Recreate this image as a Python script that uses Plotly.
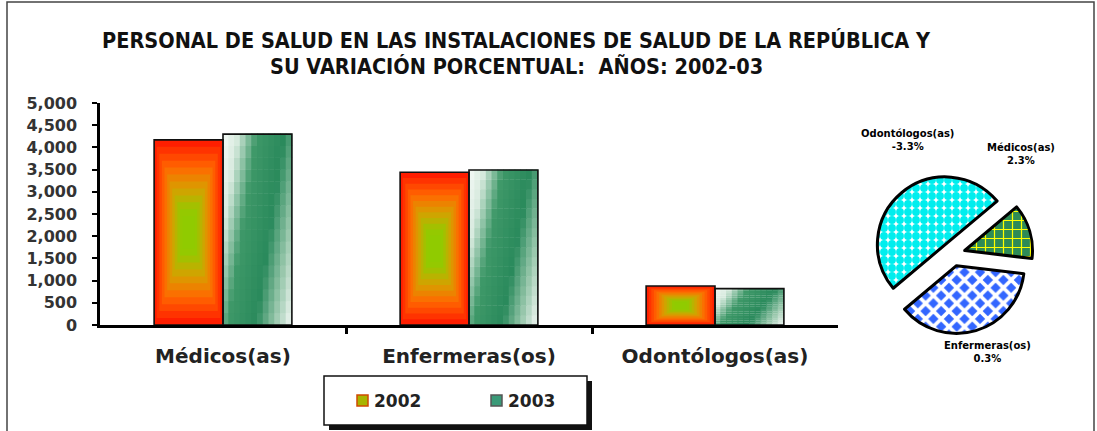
import plotly.graph_objects as go

# ---------------- data ----------------
categories = ["Médicos(as)", "Enfermeras(os)", "Odontólogos(as)"]
years = ["2002", "2003"]
v2002 = [4170, 3440, 880]
v2003 = [4300, 3490, 820]
y_ticks = [0, 500, 1000, 1500, 2000, 2500, 3000, 3500, 4000, 4500, 5000]

pie_labels = ["Médicos(as)", "Enfermeras(os)", "Odontólogos(as)"]
pie_shares = [13, 37, 50]          # slice sizes
pie_pct_text = ["2.3%", "0.3%", "-3.3%"]

title_lines = ["PERSONAL DE SALUD EN LAS INSTALACIONES DE SALUD DE LA REPÚBLICA Y",
               "SU VARIACIÓN PORCENTUAL:  AÑOS: 2002-03"]

# ---------------- helpers ----------------
W, H = 1097, 431
def px(x):
    return x / W
def py(y):
    return 1 - y / H

def interp(stops, t):
    for (t0, c0), (t1, c1) in zip(stops[:-1], stops[1:]):
        if t <= t1:
            f = 0 if t1 == t0 else (t - t0) / (t1 - t0)
            f = min(max(f, 0), 1)
            c = [round(a + (b - a) * f) for a, b in zip(c0, c1)]
            return "rgb(%d,%d,%d)" % tuple(c)
    return "rgb(%d,%d,%d)" % tuple(stops[-1][1])

BW = 0.28
idx = list(range(len(categories)))
x02 = [i - BW / 2 for i in idx]
x03 = [i + BW / 2 for i in idx]

fig = go.Figure()

# 2002 bars: rectangular "from centre" gradient red -> yellow-green
stops02 = [(0.0, (255, 30, 0)), (0.3, (255, 105, 0)), (0.55, (215, 160, 0)),
           (0.8, (150, 200, 0)), (1.0, (140, 205, 0))]
n02 = 12
for k in range(n02):
    t = k / n02
    fig.add_trace(go.Bar(
        x=x02, y=[v * (1 - 2 * t * 0.45) for v in v2002],
        base=[v * t * 0.45 for v in v2002],
        width=BW * (1 - t * 0.9),
        marker=dict(color=interp(stops02, t), line=dict(width=0)),
        showlegend=False, hoverinfo="skip"))

# 2003 bars: diagonal white / green gradient
stops03 = [(-0.45, (250, 252, 250)), (-0.2, (215, 234, 222)), (0.08, (62, 152, 104)),
           (0.48, (42, 138, 92)), (0.75, (150, 198, 170)), (1.0, (244, 248, 245))]
nx, ny = 12, 16
for r in range(ny):
    h = (r + 0.5) / ny
    for j in range(nx):
        s = (j + 0.5) / nx
        d = s - 0.42 * h
        fig.add_trace(go.Bar(
            x=[c - BW / 2 + s * BW for c in x03],
            y=[v / ny * 1.04 for v in v2003],
            base=[v * r / ny for v in v2003],
            width=BW / nx * 1.15,
            marker=dict(color=interp(stops03, d), line=dict(width=0)),
            showlegend=False, hoverinfo="skip"))

# outlines
for xs, vals, name in [(x02, v2002, years[0]), (x03, v2003, years[1])]:
    fig.add_trace(go.Bar(
        x=xs, y=vals, width=BW, name=name,
        marker=dict(color="rgba(0,0,0,0)", line=dict(color="#111", width=1.6)),
        showlegend=False))

# pie
fig.add_trace(go.Pie(
    labels=pie_labels, values=pie_shares, sort=False, direction="clockwise",
    rotation=50, pull=[0.18, 0.18, 0.18], textinfo="none", hoverinfo="label",
    domain=dict(x=[px(873), px(1033)], y=[py(334), py(174)]),
    marker=dict(colors=["#2e8b57", "#3366ff", "#ffffff"],
                line=dict(color="#000", width=3),
                pattern=dict(shape=["+", "x", "."],
                             fgcolor=["#ffff00", "#ffffff", "#00eeee"],
                             bgcolor=["#2e8b57", "#3366ff", "#ffffff"],
                             size=[9, 11, 8], solidity=[0.25, 0.55, 0.75])),
    showlegend=False))

tick_font = dict(family="DejaVu Sans", size=16, color="#333")
fig.update_layout(
    width=W, height=H, template="none",
    margin=dict(l=0, r=0, t=0, b=0),
    paper_bgcolor="white", plot_bgcolor="white",
    barmode="overlay", showlegend=False,
    xaxis=dict(domain=[px(100), px(838)], range=[-0.5, 2.5],
               tickmode="array", tickvals=idx, ticktext=["<b>%s</b>" % c for c in categories],
               ticks="", showgrid=False, zeroline=False, automargin=False,
               showline=True, linecolor="#000", linewidth=2.5,
               tickfont=dict(family="DejaVu Sans", size=20, color="#222"),
               ticklabelstandoff=11,
               minor=dict(tickmode="array", tickvals=[0.5, 1.5], ticks="outside",
                          ticklen=6, tickwidth=2.5, tickcolor="#000")),
    yaxis=dict(domain=[py(325), py(103)], range=[0, 5000],
               tickmode="array", tickvals=y_ticks,
               ticktext=["<b>{:,}</b>".format(v) for v in y_ticks],
               ticks="outside", ticklen=5, tickwidth=2, tickcolor="#000",
               showline=True, linecolor="#000", linewidth=2.5,
               showgrid=False, zeroline=False, automargin=False,
               tickfont=tick_font, ticklabelstandoff=12),
)

shapes = [
    # outer frame
    dict(type="rect", xref="paper", yref="paper", x0=px(7), x1=px(1094), y0=py(445), y1=py(2),
         line=dict(color="#444", width=1.5), fillcolor="rgba(0,0,0,0)", layer="below"),
    # legend shadow and box
    dict(type="rect", xref="paper", yref="paper", x0=px(329), x1=px(592), y0=py(430), y1=py(381),
         line=dict(width=0), fillcolor="#111"),
    dict(type="rect", xref="paper", yref="paper", x0=px(324), x1=px(587), y0=py(425), y1=py(376),
         line=dict(color="#111", width=1.5), fillcolor="white"),
    # legend swatches
    dict(type="rect", xref="paper", yref="paper", x0=px(357), x1=px(368), y0=py(406), y1=py(395),
         line=dict(color="#d04a00", width=1.5), fillcolor="#a8b400"),
    dict(type="rect", xref="paper", yref="paper", x0=px(491), x1=px(502), y0=py(406), y1=py(395),
         line=dict(color="#555", width=1.5), fillcolor="#3a9a78"),
]

title_font = dict(family="Liberation Sans Narrow, DejaVu Sans Condensed, sans-serif", size=21.5, color="#111")
annotations = [
    dict(text="<b>%s</b>" % title_lines[0], x=px(516), y=py(40), xref="paper", yref="paper",
         showarrow=False, xanchor="center", yanchor="middle", font=title_font),
    dict(text="<b>%s</b>" % title_lines[1], x=px(516), y=py(66), xref="paper", yref="paper",
         showarrow=False, xanchor="center", yanchor="middle", font=title_font),
    dict(text="<b>%s</b>" % years[0], x=px(372), y=py(401), xref="paper", yref="paper",
         showarrow=False, xanchor="left", yanchor="middle",
         font=dict(family="DejaVu Sans", size=17, color="#222")),
    dict(text="<b>%s</b>" % years[1], x=px(506), y=py(401), xref="paper", yref="paper",
         showarrow=False, xanchor="left", yanchor="middle",
         font=dict(family="DejaVu Sans", size=17, color="#222")),
]
pie_label_pos = {"Odontólogos(as)": (908, 140), "Médicos(as)": (1021, 154), "Enfermeras(os)": (987, 352)}
for lab, pct in zip(pie_labels, pie_pct_text):
    x, y = pie_label_pos[lab]
    annotations.append(dict(text="<b>%s</b><br><b>%s</b>" % (lab, pct), x=px(x), y=py(y),
                            xref="paper", yref="paper", showarrow=False,
                            xanchor="center", yanchor="middle",
                            font=dict(family="DejaVu Sans", size=10, color="#000")))

fig.update_layout(shapes=shapes, annotations=annotations)
fig.write_html("out.html", config={"displayModeBar": False},
               post_script="document.body.style.margin='0px';document.body.style.padding='0px';")
